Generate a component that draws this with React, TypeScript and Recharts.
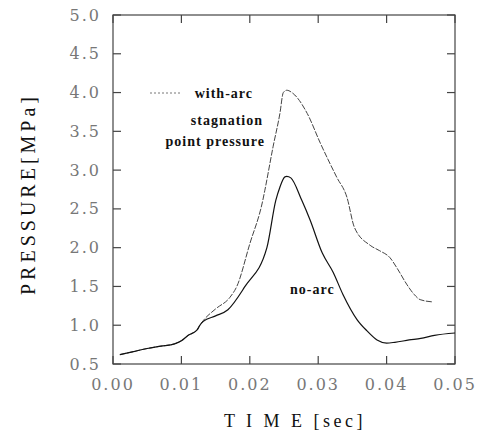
import React from 'react';
import { LineChart, Line, XAxis, YAxis, Customized } from 'recharts';

const xDomain = [0, 0.05];
const yDomain = [0.5, 5];
const xTicks = [0, 0.01, 0.02, 0.03, 0.04, 0.05];
const yTicks = [0.5, 1.0, 1.5, 2.0, 2.5, 3.0, 3.5, 4.0, 4.5, 5.0];

const withArcTime = [0.001, 0.003, 0.005, 0.007, 0.009, 0.010, 0.011, 0.0123, 0.0127, 0.0132, 0.0150, 0.0171, 0.0181, 0.0200, 0.0219, 0.0222, 0.0234, 0.0244, 0.0249, 0.0254, 0.0263, 0.0284, 0.0303, 0.0327, 0.0342, 0.0353, 0.0376, 0.0390, 0.0405, 0.0415, 0.0430, 0.0440, 0.0449, 0.0468];
const withArcPressure = [0.62, 0.66, 0.70, 0.73, 0.76, 0.80, 0.87, 0.94, 1.00, 1.06, 1.21, 1.36, 1.50, 2.05, 2.61, 2.74, 3.30, 3.73, 4.00, 4.03, 3.99, 3.73, 3.35, 2.91, 2.65, 2.26, 2.03, 1.96, 1.87, 1.74, 1.52, 1.40, 1.33, 1.30];

const noArcTime = [0.001, 0.003, 0.005, 0.007, 0.009, 0.010, 0.011, 0.0123, 0.0127, 0.0132, 0.0150, 0.0168, 0.0193, 0.0225, 0.0238, 0.0244, 0.0251, 0.0254, 0.0260, 0.0276, 0.0288, 0.0306, 0.0322, 0.0336, 0.0357, 0.0371, 0.0386, 0.0400, 0.0412, 0.0433, 0.0450, 0.0470, 0.0500];
const noArcPressure = [0.62, 0.66, 0.70, 0.73, 0.76, 0.80, 0.87, 0.94, 1.00, 1.05, 1.12, 1.20, 1.50, 2.00, 2.61, 2.78, 2.91, 2.92, 2.90, 2.61, 2.36, 1.93, 1.68, 1.40, 1.07, 0.93, 0.81, 0.77, 0.78, 0.81, 0.83, 0.87, 0.90];

const withArc = withArcTime.map((t, i) => ({ t, p: withArcPressure[i] }));
const noArc = noArcTime.map((t, i) => ({ t, p: noArcPressure[i] }));

const CHART_W = 488;
const CHART_H = 437;
const Y_AXIS_W = 113;
const X_AXIS_H = 73;
const MARGIN = { top: 15, right: 33, bottom: 0, left: 0 };
const PLOT = {
  left: MARGIN.left + Y_AXIS_W,
  top: MARGIN.top,
  right: CHART_W - MARGIN.right,
  bottom: CHART_H - MARGIN.bottom - X_AXIS_H,
};
const sx = (t: number) => PLOT.left + ((t - xDomain[0]) / (xDomain[1] - xDomain[0])) * (PLOT.right - PLOT.left);
const sy = (p: number) => PLOT.bottom - ((p - yDomain[0]) / (yDomain[1] - yDomain[0])) * (PLOT.bottom - PLOT.top);

const frameColor = '#444';
const TICK_LEN = 8;
const LABEL_GAP = 12;
const labelStyle = { fontFamily: 'DejaVu Serif', fontSize: 16, fill: '#777', letterSpacing: 2 };

const BottomTick = (props: any) => (
  <text x={Number(props.x)} y={Number(props.y)} dy="0.85em" textAnchor="middle" {...labelStyle}>
    {Number(props.payload.value).toFixed(2)}
  </text>
);

const LeftTick = (props: any) => (
  <text x={Number(props.x)} y={Number(props.y)} dy="0.35em" textAnchor="end" {...labelStyle}>
    {Number(props.payload.value).toFixed(1)}
  </text>
);

const Frame = () => (
  <g stroke={frameColor} strokeWidth={1.2} fill="none">
    <rect x={PLOT.left} y={PLOT.top} width={PLOT.right - PLOT.left} height={PLOT.bottom - PLOT.top} />
    {xTicks.map((t) => (
      <g key={'x' + t}>
        <line x1={sx(t)} y1={PLOT.bottom} x2={sx(t)} y2={PLOT.bottom - TICK_LEN} />
        <line x1={sx(t)} y1={PLOT.top} x2={sx(t)} y2={PLOT.top + TICK_LEN} />
      </g>
    ))}
    {yTicks.map((p) => (
      <g key={'y' + p}>
        <line x1={PLOT.left} y1={sy(p)} x2={PLOT.left + TICK_LEN} y2={sy(p)} />
        <line x1={PLOT.right} y1={sy(p)} x2={PLOT.right - TICK_LEN} y2={sy(p)} />
      </g>
    ))}
  </g>
);

const Annotations = () => (
  <g fontFamily="Liberation Serif" fill="#111">
    <line x1={150} y1={93} x2={180} y2={93} stroke="#777" strokeWidth={1} strokeDasharray="2 2" />
    <text x={253} y={98} textAnchor="end" fontSize={14} fontWeight="bold" letterSpacing={1}>with-arc</text>
    <text x={263} y={125} textAnchor="end" fontSize={14} fontWeight="bold" letterSpacing={1}>stagnation</text>
    <text x={265} y={146} textAnchor="end" fontSize={14} fontWeight="bold" letterSpacing={1}>point pressure</text>
    <text x={290} y={294} textAnchor="start" fontSize={14} fontWeight="bold" letterSpacing={1}>no-arc</text>
    <text x={295} y={427} textAnchor="middle" fontSize={18} letterSpacing={3.5}>T I M E [sec]</text>
    <text x={0} y={0} transform="translate(35,194) rotate(-90)" textAnchor="middle" fontSize={20} letterSpacing={4}>PRESSURE[MPa]</text>
  </g>
);

export default function App() {
  return (
    <div style={{ position: 'absolute', left: 0, top: 0 }}>
      <LineChart width={CHART_W} height={CHART_H} margin={MARGIN}>
        <XAxis type="number" dataKey="t" domain={xDomain} allowDataOverflow ticks={xTicks}
          height={X_AXIS_H} tickSize={0} tickLine={false} axisLine={false} tickMargin={LABEL_GAP}
          tick={<BottomTick />} interval={0} />
        <YAxis type="number" domain={yDomain} allowDataOverflow ticks={yTicks} width={Y_AXIS_W}
          tickSize={0} tickLine={false} axisLine={false} tickMargin={LABEL_GAP} tick={<LeftTick />} interval={0} />
        <Line data={withArc} dataKey="p" type="monotone" stroke="#444" strokeWidth={1}
          strokeDasharray="6 1.5" dot={false} isAnimationActive={false} />
        <Line data={noArc} dataKey="p" type="monotone" stroke="#111" strokeWidth={1.2}
          dot={false} isAnimationActive={false} />
        <Customized component={Frame} />
        <Customized component={Annotations} />
      </LineChart>
    </div>
  );
}
